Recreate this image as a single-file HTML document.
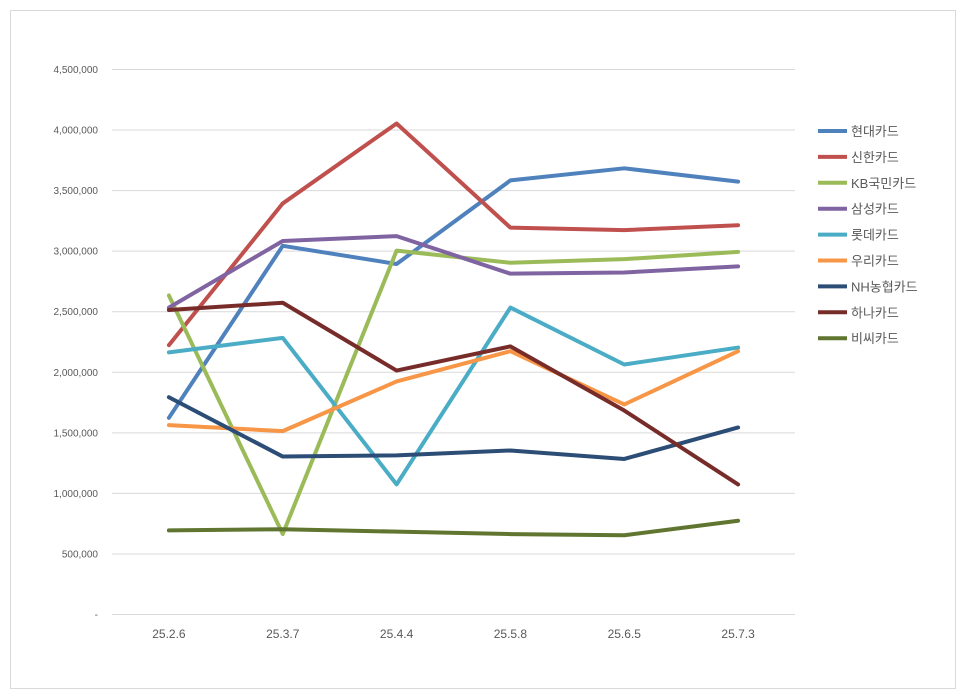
<!DOCTYPE html>
<html><head><meta charset="utf-8"><style>
body{margin:0;background:#fff;}
svg{display:block;font-family:"Liberation Sans","Noto Sans CJK KR",sans-serif;}
</style></head><body>
<svg id="chart" width="966" height="699">
<rect x="10.5" y="10.5" width="945" height="678" fill="#fff" stroke="#d9d9d9"/>
<g id="grid"></g><g id="ylabels"></g><g id="xlabels"></g><g id="lines"></g><g id="legend"></g>
</svg>
<script>
const categories=["25.2.6","25.3.7","25.4.4","25.5.8","25.6.5","25.7.3"];
const yTicks=[0,500000,1000000,1500000,2000000,2500000,3000000,3500000,4000000,4500000];
const seriesNames=["현대카드","신한카드","KB국민카드","삼성카드","롯데카드","우리카드","NH농협카드","하나카드","비씨카드"];
const seriesColors=["#4f81bd","#c0504d","#9bbb59","#8064a2","#4bacc6","#f79646","#2c4d75","#772c2a","#5f7530"];
const hyundai=[1620000,3040000,2890000,3580000,3680000,3570000];
const shinhan=[2220000,3390000,4050000,3190000,3170000,3210000];
const kb=[2630000,660000,3000000,2900000,2930000,2990000];
const samsung=[2530000,3080000,3120000,2810000,2820000,2870000];
const lotte=[2160000,2280000,1070000,2530000,2060000,2200000];
const woori=[1560000,1510000,1920000,2170000,1730000,2170000];
const nh=[1790000,1300000,1310000,1350000,1280000,1540000];
const hana=[2510000,2570000,2010000,2210000,1680000,1070000];
const bc=[690000,700000,680000,660000,650000,770000];
const allSeries=[hyundai,shinhan,kb,samsung,lotte,woori,nh,hana,bc];
const NS="http://www.w3.org/2000/svg";
const x0=112,x1=795,yTop=69,yBot=614,yMax=4500000;
const bw=(x1-x0)/categories.length;
const xs=i=>x0+bw*(i+0.5);
const ys=v=>yBot-(v/yMax)*(yBot-yTop);
function mk(t,a,p){const e=document.createElementNS(NS,t);for(const k in a)e.setAttribute(k,a[k]);p.appendChild(e);return e;}
const g=document.getElementById('grid'),yl=document.getElementById('ylabels'),xl=document.getElementById('xlabels'),ln=document.getElementById('lines'),lg=document.getElementById('legend');
yTicks.forEach(v=>{
 const l=mk('line',{x1:x0,x2:x1,y1:ys(v)+0.5,y2:ys(v)+0.5,stroke:'#d9d9d9','stroke-width':1},g);
 
 
 const t=mk('text',{x:98,y:ys(v)+4,'text-anchor':'end','font-size':10,fill:'#595959'},yl);
 t.textContent=v===0?'-':v.toLocaleString('en-US');
 
 
});
categories.forEach((c,i)=>{
 const t=mk('text',{x:xs(i),y:638,'text-anchor':'middle','font-size':12,fill:'#595959'},xl);
 t.textContent=c;
 
 
});
allSeries.forEach((s,k)=>{
 const p=mk('polyline',{points:s.map((v,i)=>xs(i)+','+ys(v)).join(' '),fill:'none',stroke:seriesColors[k],'stroke-width':4,'stroke-linejoin':'round','stroke-linecap':'round'},ln);
 
 
 const y=131+k*25.9;
 const ll=mk('line',{x1:818,x2:847,y1:y,y2:y,stroke:seriesColors[k],'stroke-width':4},lg);
 
 
 const t=mk('text',{x:851,y:y+5,'font-size':13,fill:'#595959'},lg);
 t.textContent=seriesNames[k];
 
 
});
</script>
</body></html>
